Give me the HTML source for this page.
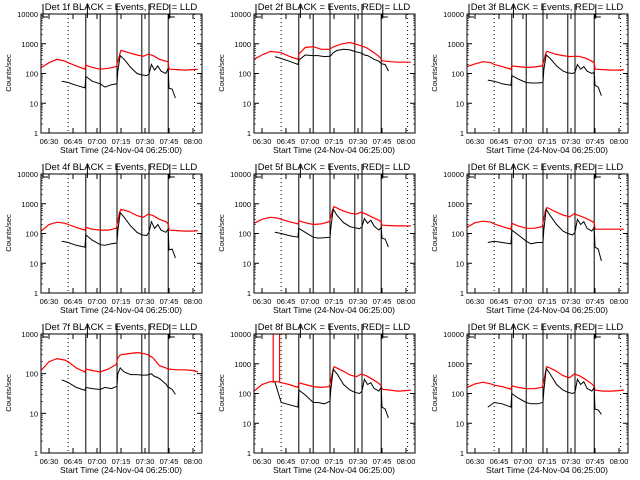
<!DOCTYPE html>
<html><head><meta charset="utf-8">
<style>
html,body{margin:0;padding:0;background:#fff;}
svg{display:block;font-family:"Liberation Sans",sans-serif;}
</style></head>
<body>
<svg id="chart" width="640" height="480" viewBox="0 0 640 480"></svg>
<script>
const detNames = ["1f","2f","3f","4f","5f","6f","7f","8f","9f"];
const tickLabels = ["06:30","06:45","07:00","07:15","07:30","07:45","08:00"];
const tickMinutes = [5,20,35,50,65,80,95];
const redTimes = [0,5,10,15,17,22,27.5,28,32,37,42,47,48,49,50,55,60,63,64,67,70,74,78,79.5,80,85,90,95,98];
const blackTimes = [13,17,22,27.5,28,32,37,40,44,47.5,48,49.5,52,56,60,63,66,67.5,69,71,73,75,78,79.5,80,82,84];
const red1 = [155,230,300,260,230,180,140,190,160,140,150,170,250,400,600,500,420,390,380,450,400,300,260,250,140,135,130,135,140];
const red2 = [300,420,550,520,500,380,300,450,750,800,650,650,700,750,800,1000,1100,1000,950,850,750,550,380,300,270,250,240,240,240];
const red3 = [170,210,250,230,200,170,140,180,170,160,165,180,250,450,560,450,400,380,370,380,380,330,260,230,140,135,130,130,135];
const red4 = [120,200,240,220,200,160,130,160,140,130,130,150,250,500,650,550,400,360,350,450,400,300,250,210,130,125,120,120,125];
const red5 = [220,300,350,330,300,250,210,270,230,200,210,250,350,600,800,600,480,460,450,520,450,350,280,240,190,185,180,180,180];
const red6 = [160,230,260,240,210,170,140,220,180,150,150,170,300,600,750,550,420,380,360,460,400,330,260,230,140,140,140,140,140];
const red7 = [120,200,240,220,200,140,110,130,120,110,130,170,250,280,300,320,340,330,320,300,250,160,140,130,130,125,125,120,110];
const red8 = [120,200,250,250,230,200,160,230,200,170,160,170,250,500,800,600,420,380,370,450,400,300,220,180,140,130,120,125,130];
const red9 = [160,210,240,210,190,170,140,180,160,145,145,160,250,500,800,600,400,350,340,450,400,300,210,170,130,120,120,125,130];
const black1 = [55,50,40,33,80,55,45,35,42,45,120,400,300,160,100,90,85,95,200,130,180,120,100,150,32,30,15];
const black2 = [370,320,260,200,280,420,400,400,370,380,400,500,600,650,620,550,500,480,420,400,350,300,260,220,210,200,120];
const black3 = [60,55,45,40,85,65,50,48,48,50,130,420,320,180,120,105,100,110,200,140,170,120,100,110,40,35,18];
const black4 = [55,50,40,35,90,60,42,40,45,48,120,500,350,180,110,90,85,110,250,150,200,130,110,140,28,30,15];
const black5 = [110,100,85,75,150,110,75,70,72,75,150,650,400,230,170,155,145,170,320,220,280,180,130,160,70,65,35];
const black6 = [50,55,50,45,130,90,55,45,50,50,130,650,400,200,120,100,90,110,300,200,250,150,120,160,35,30,12];
const black7 = [70,60,45,38,45,42,40,45,42,48,100,140,110,95,95,92,92,95,100,85,80,70,55,45,45,40,30];
const black8 = [250,50,42,35,130,90,50,50,45,55,130,650,450,200,130,110,100,120,300,200,230,150,120,160,35,30,15];
const black9 = [35,50,45,35,100,70,50,45,45,50,120,700,450,200,130,110,100,110,300,200,250,150,120,160,30,28,20];
const redSeries = [red1,red2,red3,red4,red5,red6,red7,red8,red9];
const blackSeries = [black1,black2,black3,black4,black5,black6,black7,black8,black9];
const spikeTimes8 = [12,16];
const solidLines = [28,37,47.5,63,67.5,79.5];
const dottedLines = [17,96];

const NS="http://www.w3.org/2000/svg";
const svg=document.getElementById('chart');
function mk(tag,attrs,parent){const e=document.createElementNS(NS,tag);for(const k in attrs)e.setAttribute(k,attrs[k]);(parent||svg).appendChild(e);return e;}

for(let p=0;p<9;p++){
  const col=p%3,row=Math.floor(p/3);
  const ox=col*213,oy=row*160;
  const X0=ox+41,X1=ox+202,Y0=oy+14,Y1=oy+133;
  const decades = (p===6)?3:4;
  const xs=m=>X0+m*1.6;
  const ys=v=>Y1-(Y1-Y0)*Math.log10(Math.max(v,1))/decades;
  const g=mk('g',{});
  
  
  const t=mk('text',{x:ox+121,y:oy+10,'text-anchor':'middle','font-size':'9.5'},g);
  t.textContent='Det '+detNames[p]+' BLACK = Events, RED = LLD';
  
  
  const yl=mk('text',{x:0,y:0,'text-anchor':'middle','font-size':'7.5',transform:`translate(${ox+11},${oy+73}) rotate(-90)`},g);
  yl.textContent='Counts/sec';
  
  
  for(let d=0;d<=decades;d++){
    const v=Math.pow(10,d);const y=ys(v);
    mk('line',{x1:X0,x2:X0+5,y1:y,y2:y,stroke:'#000','stroke-width':1},g);
    mk('line',{x1:X1-5,x2:X1,y1:y,y2:y,stroke:'#000','stroke-width':1},g);
    const lab=mk('text',{x:X0-3,y:y+3,'text-anchor':'end','font-size':'7.5'},g);
    lab.textContent=String(v);
    
    
    if(d<decades){for(let k=2;k<10;k++){const yy=ys(v*k);
      mk('line',{x1:X0,x2:X0+2,y1:yy,y2:yy,stroke:'#000','stroke-width':0.6},g);
      mk('line',{x1:X1-2,x2:X1,y1:yy,y2:yy,stroke:'#000','stroke-width':0.6},g);}}
  }
  for(let i=0;i<tickMinutes.length;i++){
    const x=xs(tickMinutes[i]);
    mk('line',{x1:x,x2:x,y1:Y1,y2:Y1-5,stroke:'#000','stroke-width':1},g);
    mk('line',{x1:x,x2:x,y1:Y0,y2:Y0+5,stroke:'#000','stroke-width':1},g);
    const lab=mk('text',{x:x,y:oy+144,'text-anchor':'middle','font-size':'7.5'},g);
    lab.textContent=tickLabels[i];
    
    
  }
  const xt=mk('text',{x:ox+121,y:oy+153,'text-anchor':'middle','font-size':'8.5'},g);
  xt.textContent='Start Time (24-Nov-04 06:25:00)';
  
  
  solidLines.forEach(m=>{const x=xs(m);
    const l=mk('line',{x1:x,x2:x,y1:Y0,y2:Y1,stroke:'#000','stroke-width':1},g);
    
    });
  dottedLines.forEach(m=>{const x=xs(m);
    const l=mk('line',{x1:x,x2:x,y1:Y0,y2:Y1,stroke:'#000','stroke-width':1,'stroke-dasharray':'1,3'},g);
    
    });
  [[X0+2,5],[xs(29),0],[xs(47.5),0],[xs(67.5),0],[xs(80.5),5]].forEach(([x,w])=>{
    mk('line',{x1:x,x2:x,y1:oy+4,y2:Y0+4,stroke:'#000','stroke-width':1},g);
    if(w)mk('line',{x1:x,x2:x+w,y1:Y0+3,y2:Y0+3,stroke:'#000','stroke-width':1},g);
  });
  const rp=redTimes.map((m,i)=>xs(m).toFixed(1)+','+ys(redSeries[p][i]).toFixed(1)).join(' ');
  const r=mk('polyline',{points:rp,fill:'none',stroke:'#ff0000','stroke-width':1.2},g);
  
  
  if(p===7){spikeTimes8.forEach(m=>{const x=xs(m);
    const s=mk('line',{x1:x,x2:x,y1:Y0,y2:ys(230),stroke:'#ff0000','stroke-width':1.2},g);
    
    });}
  const bp=blackTimes.map((m,i)=>xs(m).toFixed(1)+','+ys(blackSeries[p][i]).toFixed(1)).join(' ');
  const b=mk('polyline',{points:bp,fill:'none',stroke:'#000','stroke-width':1},g);
  
  
  const fr=mk('rect',{x:X0,y:Y0,width:X1-X0,height:Y1-Y0,fill:'none',stroke:'#000','stroke-width':1},g);
  
  
}
</script>
</body></html>
